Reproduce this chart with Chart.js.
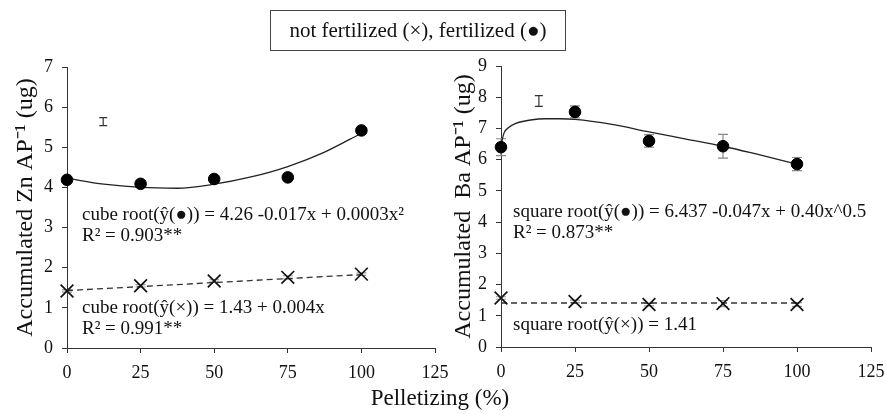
<!DOCTYPE html>
<html>
<head>
<meta charset="utf-8">
<script src="https://cdn.jsdelivr.net/npm/chart.js@4.4.1/dist/chart.umd.min.js"></script>
<style>
  body { margin: 0; background: #fff; }
  #wrap { position: relative; width: 886px; height: 414px; overflow: hidden; background: #fff;
          font-family: 'Liberation Serif', 'Times New Roman', serif; color: #111; }
  .panel { position: absolute; top: 0; height: 414px; }
  .note { position: absolute; font-size: 19px; white-space: nowrap; line-height: 21px; }
  #legendBox { position: absolute; left: 270px; top: 10px; width: 294px; height: 39px;
               border: 1px solid #444; font-size: 21px; text-align: center; line-height: 39px; }
  #xTitle { position: absolute; left: 0; width: 880px; top: 385px; text-align: center; font-size: 23px; }
</style>
</head>
<body>
<div id="wrap">
  <div class="panel" style="left:0;width:460px;z-index:1"><canvas id="znChart"></canvas></div>
  <div class="panel" style="left:443px;width:460px;z-index:2"><canvas id="baChart"></canvas></div>
  <div id="legendBox" style="z-index:3">not fertilized (×), fertilized (●)</div>
  <div class="note" style="left:82px;top:203px;z-index:3">cube root(ŷ(●)) = 4.26 -0.017x + 0.0003x²<br>R² = 0.903**</div>
  <div class="note" style="left:82px;top:296px;z-index:3">cube root(ŷ(×)) = 1.43 + 0.004x<br>R² = 0.991**</div>
  <div class="note" style="left:513px;top:200px;z-index:3">square root(ŷ(●)) = 6.437 -0.047x + 0.40x^0.5<br>R² = 0.873**</div>
  <div class="note" style="left:513px;top:313px;z-index:3">square root(ŷ(×)) = 1.41</div>
  <div id="xTitle" style="z-index:3">Pelletizing (%)</div>
</div>
<script>
// pelletizing levels (%)
const levels = [0, 25, 50, 75, 100];

// Zn panel
const znFert = [4.19, 4.09, 4.21, 4.25, 5.42];
const znFertErr = [0.05, 0.08, 0.05, 0.04, 0.06];
const znNotFert = [1.42, 1.55, 1.67, 1.76, 1.84];
const znNotFertErr = [0.03, 0.03, 0.03, 0.04, 0.03];
const znFitX = [0, 12.5, 25, 37.5, 50, 62.5, 75, 87.5, 100];
const znFitY = [4.23, 4.08, 4.0, 3.98, 4.08, 4.26, 4.52, 4.88, 5.35];
const znLineX = [0, 100];
const znLineY = [1.43, 1.83];
const znLsd = { x: 12.3, y: 5.64, half: 0.1 };

// Ba panel
const baFert = [6.40, 7.53, 6.60, 6.43, 5.86];
const baFertErr = [0.27, 0.19, 0.2, 0.38, 0.21];
const baNotFert = [1.57, 1.46, 1.36, 1.39, 1.36];
const baNotFertErr = [0.04, 0.04, 0.04, 0.1, 0.06];
const baFitX = [0, 1, 2.5, 5, 10, 15, 20, 25, 37.5, 50, 62.5, 75, 87.5, 100];
const baFitY = [6.45, 6.85, 7.02, 7.16, 7.27, 7.31, 7.31, 7.29, 7.13, 6.89, 6.66, 6.43, 6.15, 5.86];
const baLineX = [0, 100];
const baLineY = [1.41, 1.41];
const baLsd = { x: 12.8, y: 7.88, half: 0.17 };

const xTicks = [0, 25, 50, 75, 100, 125];

const toPts = (xs, ys) => xs.map((x, i) => ({ x, y: ys[i] }));

const errorBars = {
  id: 'errorBars',
  beforeDatasetsDraw(chart) {
    const { ctx, scales: { x, y } } = chart;
    chart.data.datasets.forEach(ds => {
      if (!ds.errors) return;
      ctx.save();
      ctx.strokeStyle = ds.errorColor || '#777';
      ctx.lineWidth = 1.2;
      ds.data.forEach((p, i) => {
        const e = ds.errors[i];
        if (!e) return;
        const px = x.getPixelForValue(p.x);
        const top = y.getPixelForValue(p.y + e);
        const bot = y.getPixelForValue(p.y - e);
        const cap = ds.capHalf || 5;
        ctx.beginPath();
        ctx.moveTo(px, top); ctx.lineTo(px, bot);
        ctx.moveTo(px - cap, top); ctx.lineTo(px + cap, top);
        ctx.moveTo(px - cap, bot); ctx.lineTo(px + cap, bot);
        ctx.stroke();
      });
      ctx.restore();
    });
  }
};

function makeChart(id, opts) {
  const datasets = [
    { data: toPts(levels, opts.fert), errors: opts.fertErr, errorColor: '#888', clip: false,
      showLine: false, pointStyle: 'circle', pointRadius: 5.8, backgroundColor: '#000', borderColor: '#000', order: 1 },
    { data: toPts(levels, opts.notFert), errors: opts.notFertErr, errorColor: '#999', clip: false,
      showLine: false, pointStyle: 'crossRot', pointRadius: 9, borderWidth: 1.7, borderColor: '#111', order: 2 },
    { data: [{ x: opts.lsd.x, y: opts.lsd.y }], errors: [opts.lsd.half], errorColor: '#333', capHalf: 4,
      showLine: false, pointRadius: 0, order: 3 },
    { data: toPts(opts.fitX, opts.fitY), showLine: true, pointRadius: 0, borderColor: '#222', borderWidth: 1.3,
      cubicInterpolationMode: 'monotone', clip: false, order: 4 },
    { data: toPts(opts.lineX, opts.lineY), showLine: true, pointRadius: 0, borderColor: '#333', borderWidth: 1.3,
      borderDash: [6, 4], clip: false, order: 5 }
  ];
  return new Chart(document.getElementById(id), {
    type: 'scatter',
    data: { datasets },
    plugins: [errorBars],
    options: {
      responsive: false,
      animation: false,
      events: [],
      layout: { autoPadding: false, padding: opts.padding },
      plugins: { legend: { display: false }, tooltip: { enabled: false } },
      scales: {
        x: {
          type: 'linear', min: 0, max: 125,
          afterBuildTicks: s => { s.ticks = xTicks.map(v => ({ value: v })); },
          afterFit: s => { s.height = 40; },
          border: { color: '#333', width: 1 },
          grid: { drawOnChartArea: false, drawTicks: true, tickLength: 5, color: '#333' },
          ticks: { color: '#111', padding: 9, font: { family: 'Liberation Serif', size: 18 } }
        },
        y: {
          min: 0, max: opts.yMax,
          ticks: { stepSize: 1, color: '#111', padding: 9, font: { family: 'Liberation Serif', size: 18 } },
          afterFit: s => { s.width = opts.yWidth; },
          border: { color: '#333', width: 1 },
          grid: { drawOnChartArea: false, drawTicks: true, tickLength: 5, color: '#333' },
          title: { display: true, text: opts.yTitle, color: '#111', padding: { top: opts.titlePad, bottom: 0 },
                   font: { family: 'Liberation Serif', size: 24 } }
        }
      }
    }
  });
}

const znCanvas = document.getElementById('znChart');
znCanvas.width = 460; znCanvas.height = 414;
const baCanvas = document.getElementById('baChart');
baCanvas.width = 460; baCanvas.height = 414;

makeChart('znChart', {
  fert: znFert, fertErr: znFertErr, notFert: znNotFert, notFertErr: znNotFertErr,
  fitX: znFitX, fitY: znFitY, lineX: znLineX, lineY: znLineY, lsd: znLsd,
  yMax: 7, yWidth: 67, yTitle: 'Accumulated Zn AP⁻¹ (ug)', titlePad: 11,
  padding: { left: 0, right: 25, top: 67, bottom: 26 }
});
makeChart('baChart', {
  fert: baFert, fertErr: baFertErr, notFert: baNotFert, notFertErr: baNotFertErr,
  fitX: baFitX, fitY: baFitY, lineX: baLineX, lineY: baLineY, lsd: baLsd,
  yMax: 9, yWidth: 58, yTitle: 'Accumulated  Ba AP⁻¹ (ug)', titlePad: 6,
  padding: { left: 0, right: 32, top: 66, bottom: 27 }
});
</script>
</body>
</html>
